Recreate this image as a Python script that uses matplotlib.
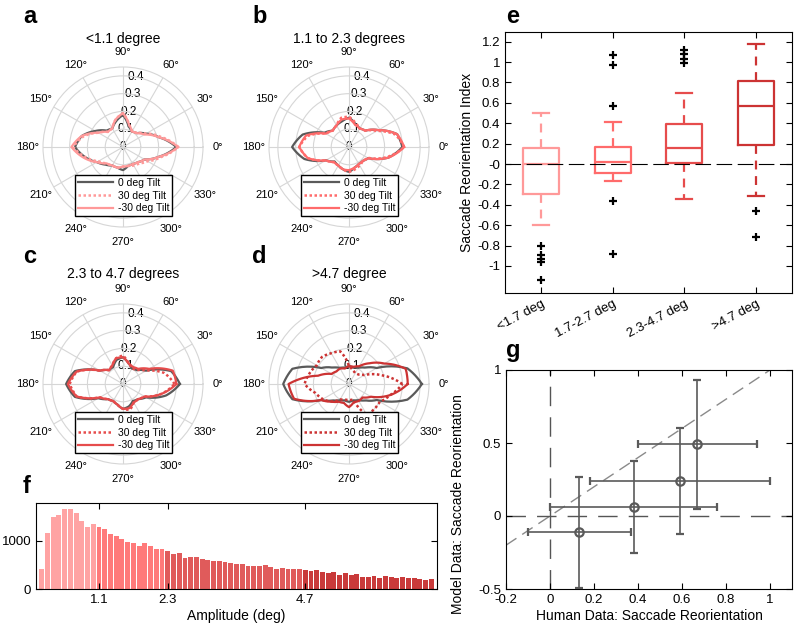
import numpy as np
import matplotlib
matplotlib.use('Agg')
import matplotlib.pyplot as plt

plt.rcParams['font.family'] = ['Liberation Sans', 'DejaVu Sans']

# ---------------- data ----------------
# polar distributions, radius every 15 deg (0..345)
ang_deg = np.arange(0, 360, 15)

a_tilt0 = [0.30, 0.21, 0.15, 0.11, 0.10, 0.12, 0.18, 0.15, 0.12, 0.13, 0.18, 0.24,
           0.27, 0.22, 0.17, 0.14, 0.12, 0.12, 0.13, 0.11, 0.11, 0.12, 0.14, 0.21]
a_tilt30 = [0.31, 0.22, 0.15, 0.11, 0.10, 0.13, 0.19, 0.16, 0.12, 0.12, 0.16, 0.23,
            0.28, 0.22, 0.16, 0.13, 0.12, 0.12, 0.11, 0.11, 0.12, 0.13, 0.16, 0.22]
a_tiltm30 = [0.31, 0.21, 0.14, 0.11, 0.10, 0.13, 0.19, 0.16, 0.12, 0.12, 0.16, 0.24,
             0.29, 0.23, 0.17, 0.13, 0.12, 0.12, 0.11, 0.11, 0.11, 0.12, 0.14, 0.21]

b_tilt0 = [0.30, 0.28, 0.19, 0.13, 0.12, 0.135, 0.165, 0.15, 0.14, 0.13, 0.16, 0.27,
           0.32, 0.26, 0.15, 0.115, 0.12, 0.13, 0.14, 0.12, 0.11, 0.11, 0.125, 0.23]
b_tilt30 = [0.31, 0.27, 0.18, 0.13, 0.12, 0.14, 0.17, 0.17, 0.14, 0.13, 0.15, 0.24,
            0.28, 0.24, 0.15, 0.12, 0.12, 0.13, 0.14, 0.13, 0.12, 0.11, 0.12, 0.22]
b_tiltm30 = [0.31, 0.28, 0.19, 0.13, 0.12, 0.13, 0.16, 0.16, 0.14, 0.13, 0.15, 0.25,
             0.28, 0.24, 0.15, 0.12, 0.12, 0.13, 0.13, 0.12, 0.11, 0.11, 0.125, 0.23]

c_tilt0 = [0.32, 0.28, 0.15, 0.11, 0.10, 0.12, 0.15, 0.14, 0.11, 0.11, 0.15, 0.28,
           0.32, 0.28, 0.16, 0.12, 0.11, 0.12, 0.14, 0.13, 0.11, 0.12, 0.15, 0.25]
c_tilt30 = [0.29, 0.24, 0.15, 0.11, 0.10, 0.12, 0.16, 0.15, 0.12, 0.11, 0.15, 0.27,
            0.30, 0.27, 0.15, 0.12, 0.11, 0.12, 0.14, 0.15, 0.12, 0.12, 0.14, 0.22]
c_tiltm30 = [0.30, 0.29, 0.17, 0.12, 0.11, 0.12, 0.15, 0.15, 0.12, 0.11, 0.15, 0.27,
             0.31, 0.27, 0.15, 0.12, 0.11, 0.12, 0.14, 0.14, 0.12, 0.12, 0.14, 0.22]

d_tilt0 = [0.41, 0.34, 0.18, 0.13, 0.105, 0.095, 0.10, 0.095, 0.105, 0.13, 0.18, 0.33,
           0.37, 0.33, 0.18, 0.13, 0.105, 0.095, 0.10, 0.095, 0.105, 0.13, 0.18, 0.34]
d_tilt30 = [0.30, 0.19, 0.10, 0.075, 0.07, 0.08, 0.10, 0.19, 0.20, 0.215, 0.21, 0.23,
            0.25, 0.195, 0.17, 0.14, 0.10, 0.09, 0.09, 0.09, 0.20, 0.20, 0.20, 0.24]
d_tiltm30 = [0.33, 0.33, 0.23, 0.165, 0.115, 0.10, 0.10, 0.09, 0.10, 0.10, 0.113, 0.18,
             0.34, 0.32, 0.18, 0.14, 0.115, 0.11, 0.13, 0.105, 0.11, 0.107, 0.143, 0.24]

polar_titles = ['<1.1 degree', '1.1 to 2.3 degrees', '2.3 to 4.7 degrees', '>4.7 degree']
tilt_labels = ['0 deg Tilt', '30 deg Tilt', '-30 deg Tilt']

# boxplot (panel e)
box_labels = ['<1.7 deg', '1.7-2.7 deg', '2.3-4.7 deg', '>4.7 deg']
box_whislo = [-0.60, -0.17, -0.34, -0.31]
box_q1 = [-0.29, -0.09, 0.01, 0.19]
box_med = [0.0, 0.02, 0.16, 0.57]
box_q3 = [0.16, 0.17, 0.39, 0.81]
box_whishi = [0.50, 0.41, 0.70, 1.18]
box_outliers = [[-0.80, -0.89, -0.93, -0.96, -1.14],
                [1.07, 0.97, 0.57, -0.36, -0.88],
                [1.12, 1.08, 1.03, 0.99],
                [-0.46, -0.72]]

# histogram (panel f), 0.1 deg bins
amp_centers = np.round(np.arange(1, 70) * 0.1, 1)
amp_counts = [418, 1158, 1488, 1535, 1652, 1652, 1570, 1398, 1288, 1344,
              1282, 1234, 1144, 1103, 1029, 979, 946, 885, 953, 891,
              823, 830, 788, 726, 741, 644, 665, 658, 617, 597,
              589, 589, 562, 548, 521, 521, 479, 479, 479, 507,
              452, 425, 438, 418, 408, 415, 401, 381, 394, 347,
              326, 354, 299, 326, 299, 313, 245, 245, 265, 238,
              265, 252, 231, 245, 231, 231, 204, 190, 211]
amp_edges = [1.1, 2.3, 4.7]

# model vs human (panel g)
hum_x = [0.13, 0.38, 0.59, 0.67]
hum_lo = [-0.10, 0.0, 0.18, 0.40]
hum_hi = [0.37, 0.76, 1.00, 0.94]
mod_y = [-0.11, 0.06, 0.24, 0.49]
mod_lo = [-0.49, -0.25, -0.12, 0.05]
mod_hi = [0.27, 0.38, 0.60, 0.93]

group_colors = ['#ff9999', '#ff6b6b', '#e64c4c', '#cc3333']
hist_colors = ['#ffa3a3', '#ff7a7a', '#e05b5b', '#c93a3a']
gray = '#5a5a5a'

# ---------------- figure ----------------
W, H = 794, 633
fig = plt.figure(figsize=(W / 100, H / 100), dpi=100)


def px(x0, y0, x1, y1):
    return [x0 / W, 1 - y1 / H, (x1 - x0) / W, (y1 - y0) / H]


def letter(x, y, s):
    fig.text(x / W, 1 - y / H, s, fontsize=17, fontweight='bold', ha='left', va='baseline')


polar_data = [(a_tilt0, a_tilt30, a_tiltm30), (b_tilt0, b_tilt30, b_tiltm30),
              (c_tilt0, c_tilt30, c_tiltm30), (d_tilt0, d_tilt30, d_tiltm30)]
centers = [(123, 147), (349, 147), (123, 384), (349, 384)]
R = 80
th = np.deg2rad(np.append(ang_deg, 360))

for i, (cx, cy) in enumerate(centers):
    ax = fig.add_axes(px(cx - R, cy - R, cx + R, cy + R), projection='polar')
    ax.set_ylim(0, 0.45)
    ax.set_yticks([0.1, 0.2, 0.3, 0.4])
    ax.set_yticklabels([])
    ax.set_xticks(np.deg2rad(np.arange(0, 360, 30)))
    ax.set_xticklabels([])
    ax.grid(color='#d6d6d6', lw=0.8)
    ax.spines['polar'].set_color('#d6d6d6')
    ax.spines['polar'].set_linewidth(0.8)
    for a in range(0, 360, 30):
        ax.text(np.deg2rad(a), 0.535, f'{a}\u00b0', fontsize=8, ha='center', va='center')
    ax.text(0, 0, '0', fontsize=8.5, ha='center', va='center', zorder=1.5)
    for r in [0.1, 0.2, 0.3, 0.4]:
        ax.text(np.deg2rad(80), r, f'{r:g}', fontsize=8.5, ha='center', va='center', zorder=1.5)
    t0, t30, tm30 = polar_data[i]
    col = group_colors[i]
    ax.plot(th, np.append(t0, t0[0]), color=gray, lw=1.6, label=tilt_labels[0], zorder=2)
    ax.plot(th, np.append(t30, t30[0]), color=col, lw=1.8, ls=(0, (1, 1)), label=tilt_labels[1], zorder=2)
    ax.plot(th, np.append(tm30, tm30[0]), color=col, lw=1.6, label=tilt_labels[2], zorder=2)
    # draw segments as arcs in polar space (smooth curves between readings)
    for ln in ax.lines:
        ln.get_path()._interpolation_steps = 12
    leg = ax.legend(loc='upper left', bbox_to_anchor=((cx - 48) / W, 1 - (cy + 28) / H),
                    bbox_transform=fig.transFigure, fontsize=7.5, fancybox=False,
                    edgecolor='black', framealpha=1, handlelength=3.3, borderpad=0.3,
                    labelspacing=0.25, handletextpad=0.5, borderaxespad=0)
    leg.get_frame().set_linewidth(1.0)
    fig.text(cx / W, 1 - 43 / H if cy < 200 else 1 - 278 / H, polar_titles[i],
             fontsize=10, ha='center', va='baseline')

letter(23, 23, 'a')
letter(252, 23, 'b')
letter(23, 263, 'c')
letter(252, 263, 'd')

# ---- e: boxplot ----
ax = fig.add_axes(px(505, 32, 792, 293))
stats = []
for i in range(4):
    stats.append(dict(med=box_med[i], q1=box_q1[i], q3=box_q3[i],
                      whislo=box_whislo[i], whishi=box_whishi[i], fliers=box_outliers[i]))
bp = ax.bxp(stats, positions=[1, 2, 3, 4], widths=0.5, capwidths=0.22,
            flierprops=dict(marker='+', markeredgecolor='black', markersize=6, markeredgewidth=1.6))
for i in range(4):
    c = group_colors[i]
    bp['boxes'][i].set(color=c, lw=1.6)
    bp['medians'][i].set(color=c, lw=1.6)
    for j in (2 * i, 2 * i + 1):
        bp['whiskers'][j].set(color=c, lw=1.6, ls=(0, (4, 3)))
        bp['caps'][j].set(color=c, lw=1.6)
ax.axhline(0, color='black', lw=0.8, dashes=(14, 5), zorder=3)
ax.set_xlim(0.5, 4.5)
ax.set_ylim(-1.265, 1.295)
yt = np.round(np.arange(-1, 1.21, 0.2), 1)
ax.set_yticks(yt)
ax.set_yticklabels([f'{v:g}' for v in yt])
ax.set_xticks([1, 2, 3, 4])
ax.set_xticklabels(box_labels, rotation=28, ha='right', rotation_mode='anchor')
ax.tick_params(direction='in', top=True, right=True, length=4, labelsize=9.5)
ax.set_ylabel('Saccade Reorientation Index', fontsize=10, labelpad=2)
letter(506, 23, 'e')

# ---- f: histogram ----
ax = fig.add_axes(px(36, 503, 437, 589.3))
bar_cols = []
for c in amp_centers:
    if c < amp_edges[0]:
        bar_cols.append(hist_colors[0])
    elif c < amp_edges[1]:
        bar_cols.append(hist_colors[1])
    elif c < amp_edges[2]:
        bar_cols.append(hist_colors[2])
    else:
        bar_cols.append(hist_colors[3])
ax.bar(amp_centers, amp_counts, width=0.085, color=bar_cols, edgecolor='none')
ax.set_xlim(0, 7)
ax.set_ylim(0, 1775)
ax.set_xticks(amp_edges)
ax.set_xticklabels([f'{v:g}' for v in amp_edges])
ax.set_yticks([0, 1000])
ax.tick_params(direction='in', top=True, right=True, length=4, labelsize=9.5)
ax.set_xlabel('Amplitude (deg)', fontsize=10, labelpad=2)
letter(23, 493, 'f')

# ---- g: model vs human ----
ax = fig.add_axes(px(506, 370, 792, 589))
hx = np.array(hum_x)
my = np.array(mod_y)
xerr = [hx - np.array(hum_lo), np.array(hum_hi) - hx]
yerr = [my - np.array(mod_lo), np.array(mod_hi) - my]
ax.axline((0, 0), slope=1, color='#8a8a8a', lw=1.0, dashes=(9, 5), zorder=1)
ax.axhline(0, color='#555555', lw=1.0, dashes=(14, 8), zorder=1)
ax.axvline(0, color='#555555', lw=1.0, dashes=(14, 8), zorder=1)
ax.errorbar(hx, my, xerr=xerr, yerr=yerr, fmt='o', mfc='none', color=gray, ms=6,
            mew=1.6, elinewidth=1.2, capsize=3, capthick=1.2, zorder=3)
ax.set_xlim(-0.2, 1.1)
ax.set_ylim(-0.5, 1)
xt = np.round(np.arange(-0.2, 1.01, 0.2), 1)
ax.set_xticks(xt)
ax.set_xticklabels([f'{v:g}' for v in xt])
ax.set_yticks([-0.5, 0, 0.5, 1])
ax.set_yticklabels(['-0.5', '0', '0.5', '1'])
ax.tick_params(direction='in', top=True, right=True, length=4, labelsize=9.5)
ax.set_xlabel('Human Data: Saccade Reorientation', fontsize=10, labelpad=2)
ax.set_ylabel('Model Data: Saccade Reorientation', fontsize=10, labelpad=2)
ax.yaxis.set_label_coords(-0.145, 0.39)
letter(506, 357, 'g')

fig.savefig('out.png', dpi=100)
